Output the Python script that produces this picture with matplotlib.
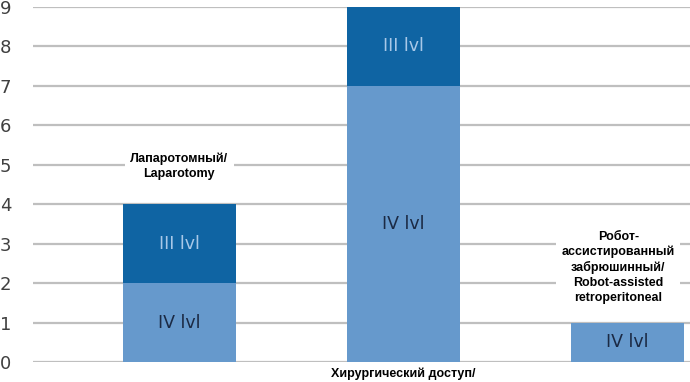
import matplotlib.pyplot as plt
import numpy as np

# data
categories = ["Лапаротомный/\nLaparotomy",
              "",
              "Робот-\nассистированный\nзабрюшинный/\nRobot-assisted\nretroperitoneal"]
lvl4 = [2, 7, 1]
lvl3 = [2, 2, 0]
seg_names = ["IV lvl", "III lvl"]
y_ticks = list(range(0, 10))
x_title = "Хирургический доступ/"

light = "#6699CC"
dark = "#0F64A3"

fig = plt.figure(figsize=(6.9, 3.82), dpi=100)
ax = fig.add_axes([33 / 690, 20 / 382, 1 - 33 / 690, 355 / 382])

x = np.arange(len(lvl4))
width = 0.505
ax.bar(x, lvl4, width, color=light, zorder=2)
ax.bar(x, lvl3, width, bottom=lvl4, color=dark, zorder=2)

# segment labels
for i in range(len(x)):
    if lvl4[i] > 0:
        ax.text(x[i], lvl4[i] / 2, seg_names[0], ha="center", va="center",
                fontsize=12.5, color="#1B2A44", zorder=3)
    if lvl3[i] > 0:
        ax.text(x[i], lvl4[i] + lvl3[i] / 2, seg_names[1], ha="center", va="center",
                fontsize=12.5, color="#A8C8E8", zorder=3)

# category labels with white boxes over the grid
box = dict(facecolor="white", edgecolor="none", pad=4)
ax.text(x[0], 4.97, categories[0], ha="center", va="center", fontsize=9,
        fontweight="bold", family="Liberation Sans", linespacing=1.3,
        bbox=box, zorder=3)
ax.text(x[2] - 0.04, 2.4, categories[2], ha="center", va="center", fontsize=9,
        fontweight="bold", family="Liberation Sans", linespacing=1.3,
        bbox=box, zorder=3)

ax.text(x[1], -0.3, x_title, ha="center", va="center", fontsize=9,
        fontweight="bold", family="Liberation Sans", clip_on=False)

ax.set_ylim(0, 9)
ax.set_xlim(-0.652, 2.28)
ax.set_yticks(y_ticks)
ax.set_xticks([])
ax.tick_params(axis="y", length=0, pad=24, labelsize=13, labelcolor="#404040")
for lab in ax.get_yticklabels():
    lab.set_horizontalalignment("left")
ax.yaxis.grid(True, color="#BFBFBF", linewidth=1.6, zorder=0)
ax.set_axisbelow(True)
for s in ax.spines.values():
    s.set_visible(False)

fig.savefig("out.png", dpi=100)
